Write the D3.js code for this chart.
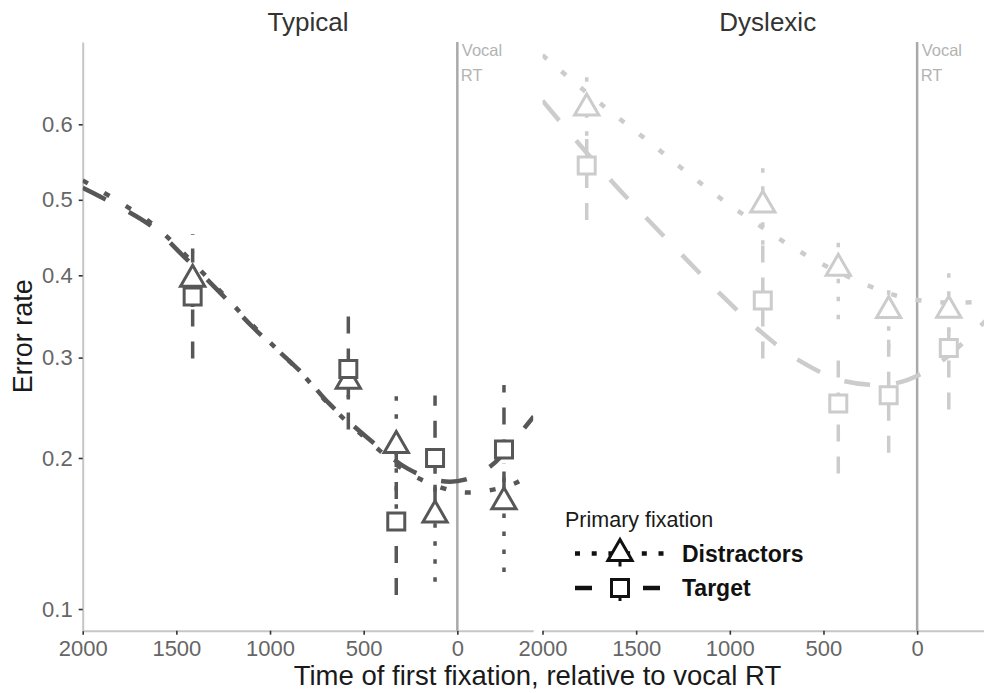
<!DOCTYPE html>
<html>
<head>
<meta charset="utf-8">
<script src="https://cdn.jsdelivr.net/npm/d3@7"></script>
<style>
  body { margin: 0; background: #fff; }
  text { font-family: "Liberation Sans", Arial, Helvetica, sans-serif; }
</style>
</head>
<body>
<svg id="chart" width="984" height="693"></svg>
<script>
// values (time in ms before vocal RT, error rate)
var groups = ["Typical", "Dyslexic"];
var xTicks = [2000, 1500, 1000, 500, 0];
var yTicks = [0.1, 0.2, 0.3, 0.4, 0.5, 0.6];

var typicalTimes = [1413, 582, 326, 119, -249];
var typicalDist = [0.395, 0.274, 0.211, 0.1555, 0.165];
var typicalDistLo = [0.36, 0.255, 0.16, 0.114, 0.1194];
var typicalDistHi = [0.454, 0.30, 0.259, 0.195, 0.195];
var typicalTarget = [0.373, 0.2874, 0.151, 0.1999, 0.2075];
var typicalTargetLo = [0.299, 0.2256, 0.107, 0.165, 0.175];
var typicalTargetHi = [0.43, 0.354, 0.205, 0.259, 0.27];

var dyslexicTimes = [1764, 824, 421, 152, -169];
var dyslexicDist = [0.6207, 0.493, 0.409, 0.3556, 0.356];
var dyslexicDistLo = [0.585, 0.44, 0.345, 0.31, 0.33];
var dyslexicDistHi = [0.673, 0.546, 0.46, 0.398, 0.411];
var dyslexicTarget = [0.5458, 0.368, 0.251, 0.2594, 0.311];
var dyslexicTargetLo = [0.473, 0.299, 0.187, 0.2045, 0.245];
var dyslexicTargetHi = [0.60, 0.45, 0.31, 0.33, 0.345];

// fitted curves
var typicalFitTimes = [2000, 1640, 1450, 1255, 1090, 825, 685, 480, 265, 90, -40, -185, -320, -408];
var typicalFitDist = [0.526, 0.470, 0.426, 0.377, 0.337, 0.281, 0.250, 0.216, 0.188, 0.176, 0.172, 0.174, 0.180, 0.190];
var typicalFitTarget = [0.516, 0.466, 0.422, 0.375, 0.335, 0.282, 0.251, 0.218, 0.191, 0.181, 0.182, 0.194, 0.219, 0.238];

var dyslexicFitTimes = [2000, 1800, 1620, 1430, 1245, 1050, 850, 640, 385, 110, -110, -320, -408];
var dyslexicFitDist = [0.685, 0.647, 0.613, 0.577, 0.540, 0.502, 0.467, 0.433, 0.400, 0.374, 0.366, 0.366, 0.368];
var dyslexicFitTarget = [0.630, 0.573, 0.522, 0.4715, 0.424, 0.376, 0.333, 0.298, 0.274, 0.272, 0.293, 0.333, 0.353];

var svg = d3.select("#chart");
var panelTop = 42, panelBottom = 630.7, panelW = 450.5;
var panelLeft = [82.7, 542.5];
var colors = ["#575757", "#cccccc"];

var logit = function(p) { return Math.log(p / (1 - p)); };
var y = d3.scaleLinear().domain([logit(0.09), logit(0.70)]).range([panelBottom, panelTop]);
var yp = function(p) { return y(logit(p)); };

var panelData = [
  {times: typicalTimes, dist: typicalDist, distLo: typicalDistLo, distHi: typicalDistHi,
   target: typicalTarget, targetLo: typicalTargetLo, targetHi: typicalTargetHi,
   fitTimes: typicalFitTimes, fitDist: typicalFitDist, fitTarget: typicalFitTarget},
  {times: dyslexicTimes, dist: dyslexicDist, distLo: dyslexicDistLo, distHi: dyslexicDistHi,
   target: dyslexicTarget, targetLo: dyslexicTargetLo, targetHi: dyslexicTargetHi,
   fitTimes: dyslexicFitTimes, fitDist: dyslexicFitDist, fitTarget: dyslexicFitTarget}
];

var triSize = 49 * 3 * Math.sqrt(3);  // circumradius 14
var sqSize = 17 * 17;

panelData.forEach(function(pd, i) {
  var x0 = panelLeft[i];
  var x = d3.scaleLinear().domain([2000, -405]).range([x0, x0 + panelW]);
  var col = colors[i];
  var g = svg.append("g");

  svg.append("clipPath").attr("id", "clip" + i)
    .append("rect").attr("x", x0).attr("y", panelTop)
    .attr("width", panelW).attr("height", panelBottom - panelTop);

  // x axis
  var xa = g.append("g").attr("transform", "translate(0," + panelBottom + ")")
    .call(d3.axisBottom(x).tickValues(xTicks).tickSize(4).tickSizeOuter(0).tickPadding(6)
      .tickFormat(d3.format("d")));
  xa.select(".domain").attr("stroke", "#c6c6c6").attr("stroke-width", 2);
  xa.selectAll(".tick line").attr("stroke", "#333").attr("stroke-width", 1.6);
  xa.selectAll(".tick text").attr("fill", "#666").style("font-size", "22px")
    .style("font-family", "'Liberation Sans', Arial, sans-serif");

  if (i === 0) {
    var ya = g.append("g").attr("transform", "translate(" + x0 + ",0)")
      .call(d3.axisLeft(y).tickValues(yTicks.map(logit)).tickSize(4).tickSizeOuter(0).tickPadding(6)
        .tickFormat(function(d, k) { return yTicks[k]; }));
    ya.select(".domain").attr("stroke", "#c6c6c6").attr("stroke-width", 2);
    ya.selectAll(".tick line").attr("stroke", "#333").attr("stroke-width", 1.6);
    ya.selectAll(".tick text").attr("fill", "#666").style("font-size", "22px")
      .style("font-family", "'Liberation Sans', Arial, sans-serif");
  }

  // strip title
  g.append("text").attr("x", x0 + panelW / 2).attr("y", 31)
    .attr("text-anchor", "middle").attr("fill", "#333").style("font-size", "26px")
    .text(groups[i]);

  // vocal RT line
  g.append("line").attr("x1", x(0)).attr("x2", x(0)).attr("y1", panelTop).attr("y2", panelBottom)
    .attr("stroke", "#a9a9a9").attr("stroke-width", 2.5);
  g.append("text").attr("x", x(0) + 4.5).attr("y", 56).attr("fill", "#b3b3b3")
    .style("font-size", "16.5px").text("Vocal");
  g.append("text").attr("x", x(0) + 3.5).attr("y", 81).attr("fill", "#b3b3b3")
    .style("font-size", "16.5px").text("RT");

  var plot = g.append("g").attr("clip-path", "url(#clip" + i + ")");

  var line = d3.line()
    .x(function(d) { return x(d[0]); })
    .y(function(d) { return yp(d[1]); })
    .curve(d3.curveCatmullRom.alpha(0.5));

  // fitted curves
  plot.append("path").datum(d3.zip(pd.fitTimes, pd.fitTarget))
    .attr("d", line).attr("fill", "none").attr("stroke", col)
    .attr("stroke-width", 4.5).attr("stroke-dasharray", "26,26");
  plot.append("path").datum(d3.zip(pd.fitTimes, pd.fitDist))
    .attr("d", line).attr("fill", "none").attr("stroke", col)
    .attr("stroke-width", 4.5).attr("stroke-dasharray", "6,19");

  // error bars
  var distBars = d3.zip(pd.times, pd.distLo, pd.distHi);
  var targBars = d3.zip(pd.times, pd.targetLo, pd.targetHi);
  plot.selectAll(".ebT").data(targBars).enter().append("line")
    .attr("x1", function(d) { return x(d[0]); }).attr("x2", function(d) { return x(d[0]); })
    .attr("y1", function(d) { return yp(d[1]); }).attr("y2", function(d) { return yp(d[2]); })
    .attr("stroke", col).attr("stroke-width", 3.5).attr("stroke-dasharray", "17,15");
  plot.selectAll(".ebD").data(distBars).enter().append("line")
    .attr("x1", function(d) { return x(d[0]); }).attr("x2", function(d) { return x(d[0]); })
    .attr("y1", function(d) { return yp(d[1]); }).attr("y2", function(d) { return yp(d[2]); })
    .attr("stroke", col).attr("stroke-width", 3.5).attr("stroke-dasharray", "4.5,13.5");

  // points
  plot.selectAll(".tri").data(d3.zip(pd.times, pd.dist)).enter().append("path")
    .attr("d", d3.symbol().type(d3.symbolTriangle).size(triSize))
    .attr("transform", function(d) { return "translate(" + x(d[0]) + "," + yp(d[1]) + ")"; })
    .attr("fill", "#fff").attr("stroke", col).attr("stroke-width", 3);
  plot.selectAll(".sq").data(d3.zip(pd.times, pd.target)).enter().append("path")
    .attr("d", d3.symbol().type(d3.symbolSquare).size(sqSize))
    .attr("transform", function(d) { return "translate(" + x(d[0]) + "," + yp(d[1]) + ")"; })
    .attr("fill", "#fff").attr("stroke", col).attr("stroke-width", 3);
});

// axis titles
svg.append("text").attr("x", 537.5).attr("y", 685).attr("text-anchor", "middle")
  .attr("fill", "#1a1a1a").style("font-size", "27.5px")
  .text("Time of first fixation, relative to vocal RT");
svg.append("text").attr("transform", "translate(32," + ((panelTop + panelBottom) / 2) + ") rotate(-90)")
  .attr("text-anchor", "middle").attr("fill", "#1a1a1a").style("font-size", "27px")
  .text("Error rate");

// legend
var leg = svg.append("g");
leg.append("text").attr("x", 565).attr("y", 527).attr("fill", "#1a1a1a")
  .style("font-size", "21.5px").text("Primary fixation");
var legRows = [
  {label: "Distractors", y: 553.5, dash: "5,11.7", shape: d3.symbolTriangle, size: triSize, textY: 562},
  {label: "Target", y: 588, dash: "17,51", shape: d3.symbolSquare, size: sqSize, textY: 596}
];
legRows.forEach(function(r) {
  leg.append("line").attr("x1", 575).attr("x2", 664).attr("y1", r.y).attr("y2", r.y)
    .attr("stroke", "#111").attr("stroke-width", 4.5).attr("stroke-dasharray", r.dash);
  leg.append("line").attr("x1", 620).attr("x2", 620).attr("y1", r.y - 8).attr("y2", r.y + 13)
    .attr("stroke", "#111").attr("stroke-width", 3);
  leg.append("path").attr("d", d3.symbol().type(r.shape).size(r.size))
    .attr("transform", "translate(620," + r.y + ")")
    .attr("fill", "#fff").attr("stroke", "#111").attr("stroke-width", 3);
  leg.append("text").attr("x", 682).attr("y", r.textY).attr("fill", "#111")
    .style("font-size", "23px").style("font-weight", "bold").text(r.label);
});
</script>
</body>
</html>
